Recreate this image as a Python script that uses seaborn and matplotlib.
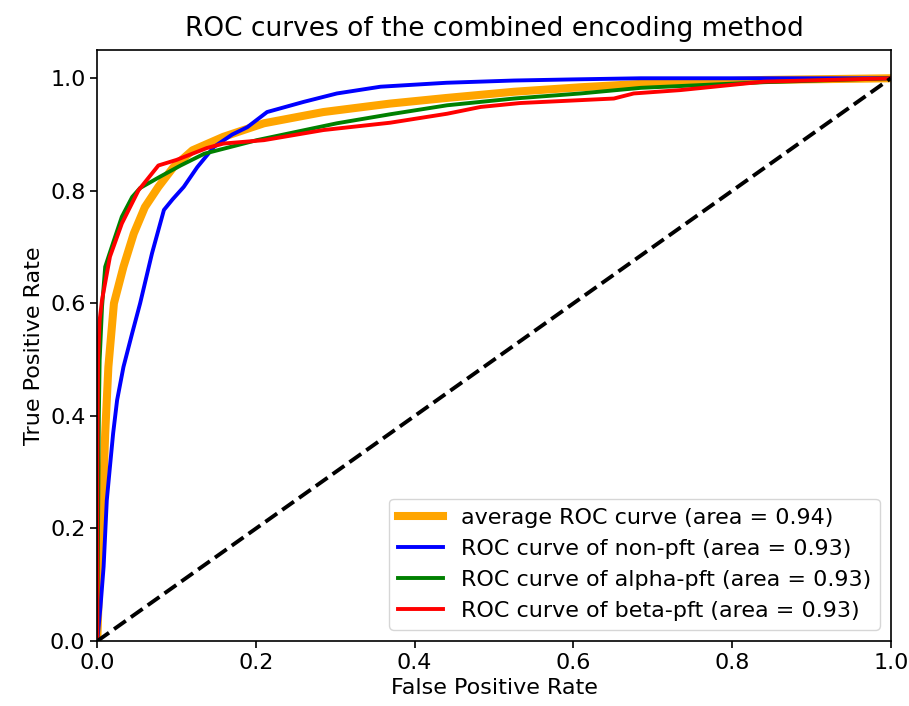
import seaborn as sns
import matplotlib
matplotlib.use('Agg')
import matplotlib.pyplot as plt
import pandas as pd

# points
fpr_avg = [0, 0.003, 0.007, 0.010, 0.014, 0.021, 0.033, 0.046, 0.060, 0.077, 0.096, 0.120, 0.159,
           0.210, 0.285, 0.369, 0.440, 0.525, 0.609, 0.685, 0.840, 1.0]
tpr_avg = [0, 0.132, 0.250, 0.369, 0.487, 0.600, 0.665, 0.724, 0.771, 0.807, 0.842, 0.872, 0.896,
           0.920, 0.940, 0.955, 0.965, 0.976, 0.984, 0.990, 0.997, 1.0]

fpr_non = [0, 0.004, 0.008, 0.012, 0.016, 0.020, 0.025, 0.033, 0.044, 0.054, 0.069, 0.084, 0.095,
           0.109, 0.126, 0.147, 0.170, 0.189, 0.214, 0.260, 0.302, 0.357, 0.440, 0.525, 0.600,
           0.685, 0.800, 1.0]
tpr_non = [0, 0.060, 0.132, 0.250, 0.310, 0.369, 0.428, 0.487, 0.547, 0.600, 0.689, 0.766, 0.785,
           0.807, 0.842, 0.878, 0.900, 0.913, 0.940, 0.958, 0.973, 0.985, 0.992, 0.996, 0.998,
           1.0, 1.0, 1.0]

fpr_alpha = [0, 0.001, 0.002, 0.003, 0.006, 0.010, 0.021, 0.031, 0.044, 0.054, 0.079, 0.105, 0.135,
             0.201, 0.302, 0.369, 0.441, 0.525, 0.609, 0.685, 0.840, 1.0]
tpr_alpha = [0, 0.200, 0.400, 0.499, 0.594, 0.665, 0.712, 0.754, 0.789, 0.805, 0.825, 0.845, 0.866,
             0.890, 0.920, 0.936, 0.952, 0.964, 0.973, 0.983, 0.993, 1.0]

fpr_beta = [0, 0.0, 0.001, 0.003, 0.006, 0.016, 0.031, 0.052, 0.077, 0.100, 0.138, 0.159, 0.210,
            0.285, 0.369, 0.441, 0.483, 0.533, 0.651, 0.676, 0.735, 0.840, 1.0]
tpr_beta = [0, 0.300, 0.500, 0.570, 0.606, 0.683, 0.742, 0.801, 0.845, 0.855, 0.876, 0.884, 0.890,
            0.908, 0.921, 0.937, 0.949, 0.956, 0.964, 0.973, 0.979, 0.994, 1.0]

curves = [
    ('average ROC curve (area = 0.94)', fpr_avg, tpr_avg, 'orange', 5.8),
    ('ROC curve of non-pft (area = 0.93)', fpr_non, tpr_non, 'blue', 2.8),
    ('ROC curve of alpha-pft (area = 0.93)', fpr_alpha, tpr_alpha, 'green', 2.8),
    ('ROC curve of beta-pft (area = 0.93)', fpr_beta, tpr_beta, 'red', 2.8),
]

plt.rcParams['font.family'] = ['DejaVu Sans']
plt.rcParams['font.size'] = 16

fig, ax = plt.subplots(figsize=(9.09, 7.06), dpi=100)
fig.subplots_adjust(left=0.107, right=0.980, top=0.929, bottom=0.092)

for name, fx, ty, col, lw in curves:
    df = pd.DataFrame({'fpr': fx, 'tpr': ty})
    sns.lineplot(data=df, x='fpr', y='tpr', sort=False, estimator=None,
                 color=col, linewidth=lw, label=name, ax=ax)

ax.plot([0, 1], [0, 1], 'k--', lw=2.8)

ax.set_xlim(0.0, 1.0)
ax.set_ylim(0.0, 1.05)
ax.set_xlabel('False Positive Rate', fontsize=16)
ax.set_ylabel('True Positive Rate', fontsize=16)
ax.set_title('ROC curves of the combined encoding method', fontsize=19, pad=10)
ax.tick_params(labelsize=16, length=5, width=1.2)
for s in ax.spines.values():
    s.set_linewidth(1.2)
ax.legend(loc='lower right', fontsize=16, handlelength=2.0)

plt.savefig('out.png', dpi=100)
